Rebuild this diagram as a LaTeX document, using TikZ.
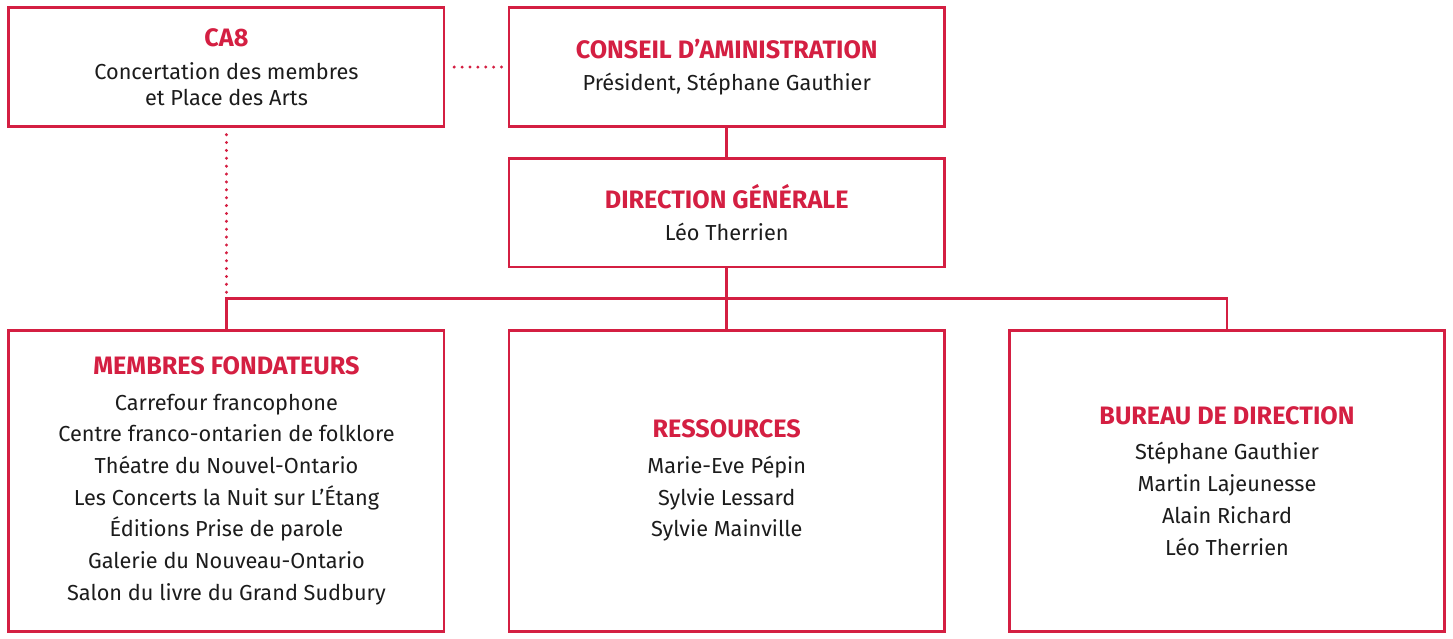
\documentclass[tikz,border=0pt]{standalone}
\usepackage{fontspec}
\setmainfont{Fira Sans}
\usetikzlibrary{matrix}
\definecolor{orgred}{RGB}{212,31,66}
\definecolor{orgtext}{RGB}{28,28,28}
\newcommand{\unittitle}[1]{{\fontsize{14.4}{16}\selectfont\bfseries\color{orgred}#1}}
\begin{document}
\begin{tikzpicture}[
  unit/.style={draw=orgred, line width=1.5pt, shape=rectangle, minimum width=8.74cm,
    align=center, text=orgtext, font=\fontsize{12.4}{18.1}\selectfont},
  link/.style={draw=orgred, line width=1.5pt},
  dotlink/.style={draw=orgred, line width=1.9pt, line cap=round, dash pattern=on 0pt off 4.5pt}
]
  \matrix [column sep=1.25cm, row sep=0.59cm] {
    \node[unit, minimum height=2.38cm] (ca8) {\unittitle{CA8}\\[0.6pt]
      Concertation des membres\\[-3.4pt] et Place des Arts};
    & \node[unit, minimum height=2.38cm] (conseil) {\unittitle{CONSEIL D’AMINISTRATION}\\
      Président, Stéphane Gauthier};
    & \\
    & \node[unit, minimum height=2.18cm] (direction) {\unittitle{DIRECTION GÉNÉRALE}\\
      Léo Therrien};
    & \\[0.63cm]
    \node[unit, minimum height=6.04cm] (membres) {\unittitle{MEMBRES FONDATEURS}\\[2.3pt]
      Carrefour francophone\\ Centre franco-ontarien de folklore\\ Théatre du Nouvel-Ontario\\
      Les Concerts la Nuit sur L’Étang\\ Éditions Prise de parole\\
      Galerie du Nouveau-Ontario\\ Salon du livre du Grand Sudbury};
    & \node[unit, minimum height=6.04cm] (ressources) {\unittitle{RESSOURCES}\\[2.3pt]
      Marie-Eve Pépin\\ Sylvie Lessard\\ Sylvie Mainville};
    & \node[unit, minimum height=6.04cm] (bureau) {\unittitle{BUREAU DE DIRECTION}\\[2.3pt]
      Stéphane Gauthier\\ Martin Lajeunesse\\ Alain Richard\\ Léo Therrien}; \\
  };
  \useasboundingbox ([xshift=-0.15cm,yshift=0.13cm]ca8.north west)
    rectangle ([xshift=0.14cm,yshift=-0.07cm]bureau.south east);
  \path (direction.south) -- (ressources.north) coordinate[pos=0.5] (bus);
  \draw[link] (conseil) -- (direction);
  \draw[link] (direction) -- (ressources);
  \draw[link] (membres.north) |- (bus) -| (bureau.north);
  \draw[dotlink, shorten <=5pt, shorten >=3pt] (ca8) -- (conseil);
  \draw[dotlink, shorten <=4pt, shorten >=3pt] (ca8.south) -- (ca8.south |- bus);
\end{tikzpicture}
\end{document}
